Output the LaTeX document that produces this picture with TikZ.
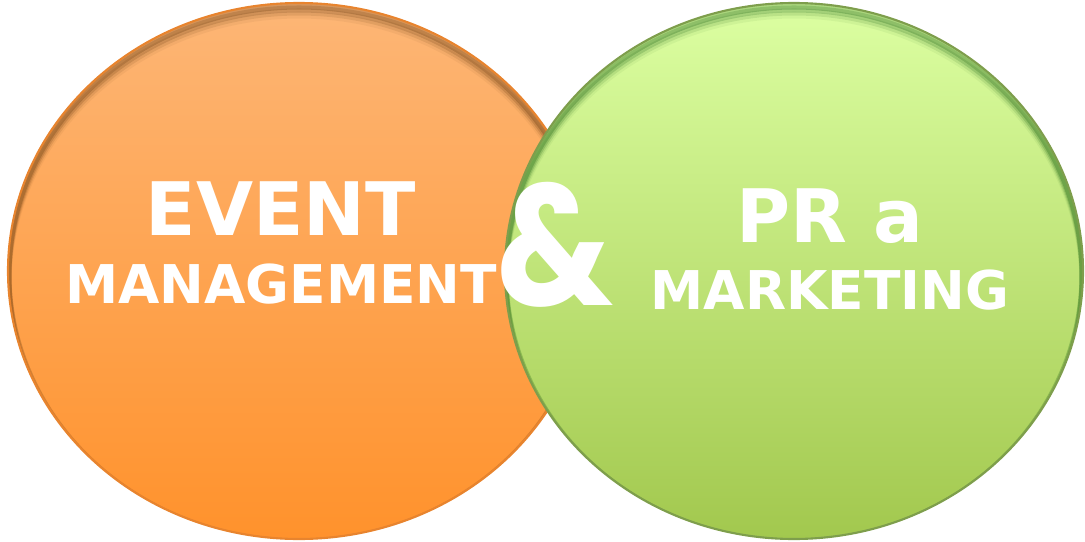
\documentclass[tikz,border=0pt]{standalone}
\usepackage{fontspec}
\setmainfont{DejaVu Sans}
\newfontfamily\ampfont{Poppins}

\definecolor{orangetop}{HTML}{FDB676}
\definecolor{orangebot}{HTML}{FF922C}
\definecolor{orangeedge}{HTML}{E8842E}
\definecolor{greentop}{HTML}{DCFFA2}
\definecolor{greenbot}{HTML}{A2C84E}
\definecolor{greenedge}{HTML}{7E9E4C}

\tikzset{
  bigtext/.style={text=white,inner sep=0pt,font=\bfseries\fontsize{42}{46}\selectfont},
  smalltext/.style={text=white,inner sep=0pt,font=\bfseries\fontsize{30.4}{34}\selectfont},
  amptext/.style={text=white,inner sep=0pt,xscale=0.85,font=\ampfont\bfseries\fontsize{98}{102}\selectfont}
}

\begin{document}
\begin{tikzpicture}[x=0.02cm,y=-0.02cm]
\useasboundingbox (0,0) rectangle (1085,541);

% orange circle:
\path[top color=orangetop,bottom color=orangebot] (299,271) ellipse (291 and 268);
\begin{scope}
\clip (299,271) ellipse (291 and 268);
\foreach \d/\o in {3/0.22,6/0.16,9/0.10,12/0.05}
  \draw[black!70!orange,opacity=\o,line width=4pt] (299,271+\d) ellipse (291 and 268);
\end{scope}
\draw[orangeedge,line width=1.2pt] (299,271) ellipse (291 and 268);

% green circle:
\path[top color=greentop,bottom color=greenbot] (794,271) ellipse (289 and 268);
\begin{scope}
\clip (794,271) ellipse (289 and 268);
\foreach \d/\o in {3/0.22,6/0.16,9/0.10,12/0.05}
  \draw[black!70!green,opacity=\o,line width=4pt] (794,271+\d) ellipse (289 and 268);
\end{scope}
\draw[greenedge,line width=1.2pt] (794,271) ellipse (289 and 268);

% texts
\node[bigtext] (event) at (281,209) {EVENT};
\node[smalltext] (management) at (281,284) {MANAGEMENT};
\node[bigtext] (pr) at (830,216) {PR a};
\node[smalltext] (marketing) at (830,290) {MARKETING};
\node[amptext] (amp) at (555,245) {\&};

\end{tikzpicture}
\end{document}
